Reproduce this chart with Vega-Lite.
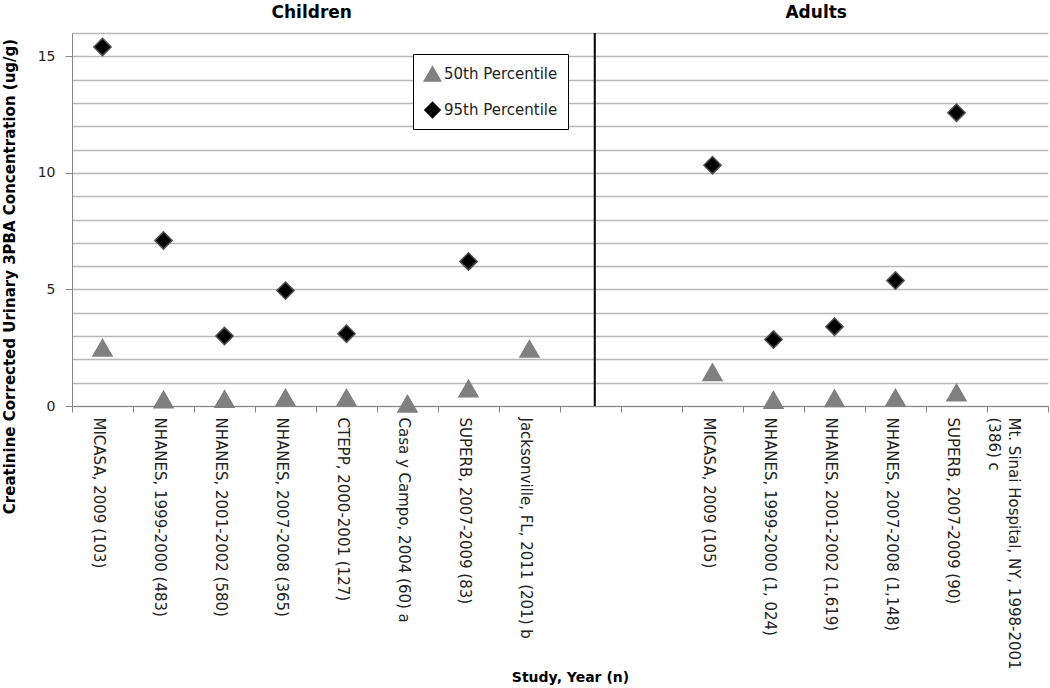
{
  "$schema": "https://vega.github.io/schema/vega-lite/v6.json",
  "width": 976,
  "height": 373,
  "autosize": {"type": "none"},
  "padding": {"left": 72, "top": 33, "right": 2, "bottom": 282},
  "background": "white",
  "config": {"view": {"stroke": null}, "font": "DejaVu Sans"},
  "resolve": {"axis": {"x": "independent", "y": "independent"}},
  "datasets": {
    "points": [
      {"study": "MICASA, 2009 (103)", "group": "Children", "series": "50th Percentile", "value": 2.5},
      {"study": "MICASA, 2009 (103)", "group": "Children", "series": "95th Percentile", "value": 15.4},
      {"study": "NHANES, 1999-2000 (483)", "group": "Children", "series": "50th Percentile", "value": 0.28},
      {"study": "NHANES, 1999-2000 (483)", "group": "Children", "series": "95th Percentile", "value": 7.1},
      {"study": "NHANES, 2001-2002 (580)", "group": "Children", "series": "50th Percentile", "value": 0.3},
      {"study": "NHANES, 2001-2002 (580)", "group": "Children", "series": "95th Percentile", "value": 3.0},
      {"study": "NHANES, 2007-2008 (365)", "group": "Children", "series": "50th Percentile", "value": 0.36},
      {"study": "NHANES, 2007-2008 (365)", "group": "Children", "series": "95th Percentile", "value": 4.95},
      {"study": "CTEPP, 2000-2001 (127)", "group": "Children", "series": "50th Percentile", "value": 0.36},
      {"study": "CTEPP, 2000-2001 (127)", "group": "Children", "series": "95th Percentile", "value": 3.1},
      {"study": "Casa y Campo, 2004 (60)  a", "group": "Children", "series": "50th Percentile", "value": 0.1},
      {"study": "SUPERB, 2007-2009 (83)", "group": "Children", "series": "50th Percentile", "value": 0.75},
      {"study": "SUPERB, 2007-2009 (83)", "group": "Children", "series": "95th Percentile", "value": 6.2},
      {"study": "Jacksonville, FL, 2011 (201)  b", "group": "Children", "series": "50th Percentile", "value": 2.45},
      {"study": "MICASA, 2009 (105)", "group": "Adults", "series": "50th Percentile", "value": 1.45},
      {"study": "MICASA, 2009 (105)", "group": "Adults", "series": "95th Percentile", "value": 10.33},
      {"study": "NHANES, 1999-2000 (1, 024)", "group": "Adults", "series": "50th Percentile", "value": 0.26},
      {"study": "NHANES, 1999-2000 (1, 024)", "group": "Adults", "series": "95th Percentile", "value": 2.85},
      {"study": "NHANES, 2001-2002 (1,619)", "group": "Adults", "series": "50th Percentile", "value": 0.33},
      {"study": "NHANES, 2001-2002 (1,619)", "group": "Adults", "series": "95th Percentile", "value": 3.4},
      {"study": "NHANES, 2007-2008 (1,148)", "group": "Adults", "series": "50th Percentile", "value": 0.36},
      {"study": "NHANES, 2007-2008 (1,148)", "group": "Adults", "series": "95th Percentile", "value": 5.38},
      {"study": "SUPERB, 2007-2009 (90)", "group": "Adults", "series": "50th Percentile", "value": 0.58},
      {"study": "SUPERB, 2007-2009 (90)", "group": "Adults", "series": "95th Percentile", "value": 12.58}
    ],
    "children": [
      {"study": "NHANES, 2007-2008 (365)", "label": "Children"}
    ],
    "adults": [
      {"study": "NHANES, 2001-2002 (1,619)", "label": "Adults"}
    ],
    "divider": [
      {"study": "blank1"}
    ]
  },
  "layer": [
    {
      "data": {"name": "points"},
      "mark": {"type": "point", "filled": true, "opacity": 1, "strokeWidth": 1.5},
      "encoding": {
        "x": {
          "field": "study",
          "type": "nominal",
          "sort": null,
          "scale": {
            "type": "band",
            "paddingInner": 0,
            "paddingOuter": 0,
            "domain": [
              "MICASA, 2009 (103)",
              "NHANES, 1999-2000 (483)",
              "NHANES, 2001-2002 (580)",
              "NHANES, 2007-2008 (365)",
              "CTEPP, 2000-2001 (127)",
              "Casa y Campo, 2004 (60)  a",
              "SUPERB, 2007-2009 (83)",
              "Jacksonville, FL, 2011 (201)  b",
              "blank1",
              "blank2",
              "MICASA, 2009 (105)",
              "NHANES, 1999-2000 (1, 024)",
              "NHANES, 2001-2002 (1,619)",
              "NHANES, 2007-2008 (1,148)",
              "SUPERB, 2007-2009 (90)",
              "Mt. Sinai Hospital, NY, 1998-2001 (386) c"
            ]
          },
          "axis": {
            "grid": false,
            "tickBand": "extent",
            "tickSize": 6,
            "tickColor": "#888888",
            "domainColor": "#888888",
            "labelAngle": 90,
            "labelAlign": "left",
            "labelBaseline": "middle",
            "labelPadding": 5,
            "labelOffset": -4,
            "labelFont": "DejaVu Sans",
            "labelFontSize": 15,
            "labelColor": "#222222",
            "labelLimit": 0,
            "labelOverlap": false,
            "labelBound": false,
            "labelFlush": false,
            "labelLineHeight": 20,
            "labelExpr": "(datum.value == 'blank1' || datum.value == 'blank2') ? '' : (datum.value == 'Mt. Sinai Hospital, NY, 1998-2001 (386) c' ? ['Mt. Sinai Hospital, NY, 1998-2001', '(386) c'] : datum.label)",
            "title": "Study, Year (n)",
            "titleFont": "DejaVu Sans",
            "titleFontSize": 14,
            "titleFontWeight": "bold",
            "titleColor": "#000000",
            "titleX": 498,
            "titleY": 271,
            "titleAlign": "center",
            "titleBaseline": "middle"
          }
        },
        "y": {
          "field": "value",
          "type": "quantitative",
          "scale": {"domain": [0, 16], "nice": false},
          "axis": {
            "orient": "left",
            "values": [0, 1, 2, 3, 4, 5, 6, 7, 8, 9, 10, 11, 12, 13, 14, 15, 16],
            "labelExpr": "(datum.value == 0 || datum.value == 5 || datum.value == 10 || datum.value == 15) ? datum.label : ''",
            "tickSize": 7,
            "tickOpacity": 0,
            "grid": true,
            "gridColor": "#b8b8b8",
            "gridWidth": 1.3,
            "domainColor": "#888888",
            "labelFont": "DejaVu Sans",
            "labelFontSize": 14,
            "labelColor": "#222222",
            "labelPadding": 10,
            "title": "Creatinine Corrected Urinary 3PBA Concentration (ug/g)",
            "titleFont": "DejaVu Sans",
            "titleFontSize": 15,
            "titleFontWeight": "bold",
            "titleColor": "#000000",
            "titleAngle": -90,
            "titleX": -63,
            "titleY": 243,
            "titleAlign": "center",
            "titleBaseline": "middle"
          }
        },
        "color": {
          "field": "series",
          "type": "nominal",
          "scale": {"domain": ["50th Percentile", "95th Percentile"], "range": ["#808080", "#000000"]},
          "legend": {
            "title": null,
            "orient": "none",
            "legendX": 341,
            "legendY": 21,
            "padding": 10,
            "strokeColor": "#000000",
            "fillColor": "#ffffff",
            "cornerRadius": 0,
            "symbolSize": 80,
            "symbolStrokeWidth": 0,
            "labelFont": "DejaVu Sans",
            "labelFontSize": 15,
            "labelColor": "#222222",
            "labelOffset": 2,
            "rowPadding": 19
          }
        },
        "shape": {
          "field": "series",
          "type": "nominal",
          "scale": {"domain": ["50th Percentile", "95th Percentile"], "range": ["triangle-up", "diamond"]}
        },
        "stroke": {
          "field": "series",
          "type": "nominal",
          "scale": {"domain": ["50th Percentile", "95th Percentile"], "range": ["#808080", "#505050"]},
          "legend": null
        },
        "size": {
          "field": "series",
          "type": "ordinal",
          "scale": {"domain": ["50th Percentile", "95th Percentile"], "range": [360, 300]},
          "legend": null
        }
      }
    },
    {
      "data": {"name": "divider"},
      "mark": {"type": "rule", "color": "#000000", "strokeWidth": 2},
      "encoding": {
        "x": {"field": "study", "type": "nominal", "bandPosition": 0.57, "axis": null}
      }
    },
    {
      "data": {"name": "children"},
      "mark": {"type": "text", "font": "DejaVu Sans", "fontWeight": "bold", "fontSize": 17, "color": "#000000", "baseline": "middle", "align": "center", "dy": -20},
      "encoding": {
        "x": {"field": "study", "type": "nominal", "bandPosition": 0.93, "axis": null},
        "y": {
          "datum": 16,
          "type": "quantitative",
          "axis": {
            "orient": "left",
            "values": [0, 5, 10, 15],
            "grid": false,
            "labels": false,
            "domain": false,
            "ticks": true,
            "tickSize": 7,
            "tickColor": "#888888",
            "title": null
          }
        },
        "text": {"field": "label"}
      }
    },
    {
      "data": {"name": "adults"},
      "mark": {"type": "text", "font": "DejaVu Sans", "fontWeight": "bold", "fontSize": 17, "color": "#000000", "baseline": "middle", "align": "center", "dy": -20},
      "encoding": {
        "x": {"field": "study", "type": "nominal", "bandPosition": 0.2, "axis": null},
        "y": {"datum": 16, "type": "quantitative", "axis": null},
        "text": {"field": "label"}
      }
    }
  ]
}
